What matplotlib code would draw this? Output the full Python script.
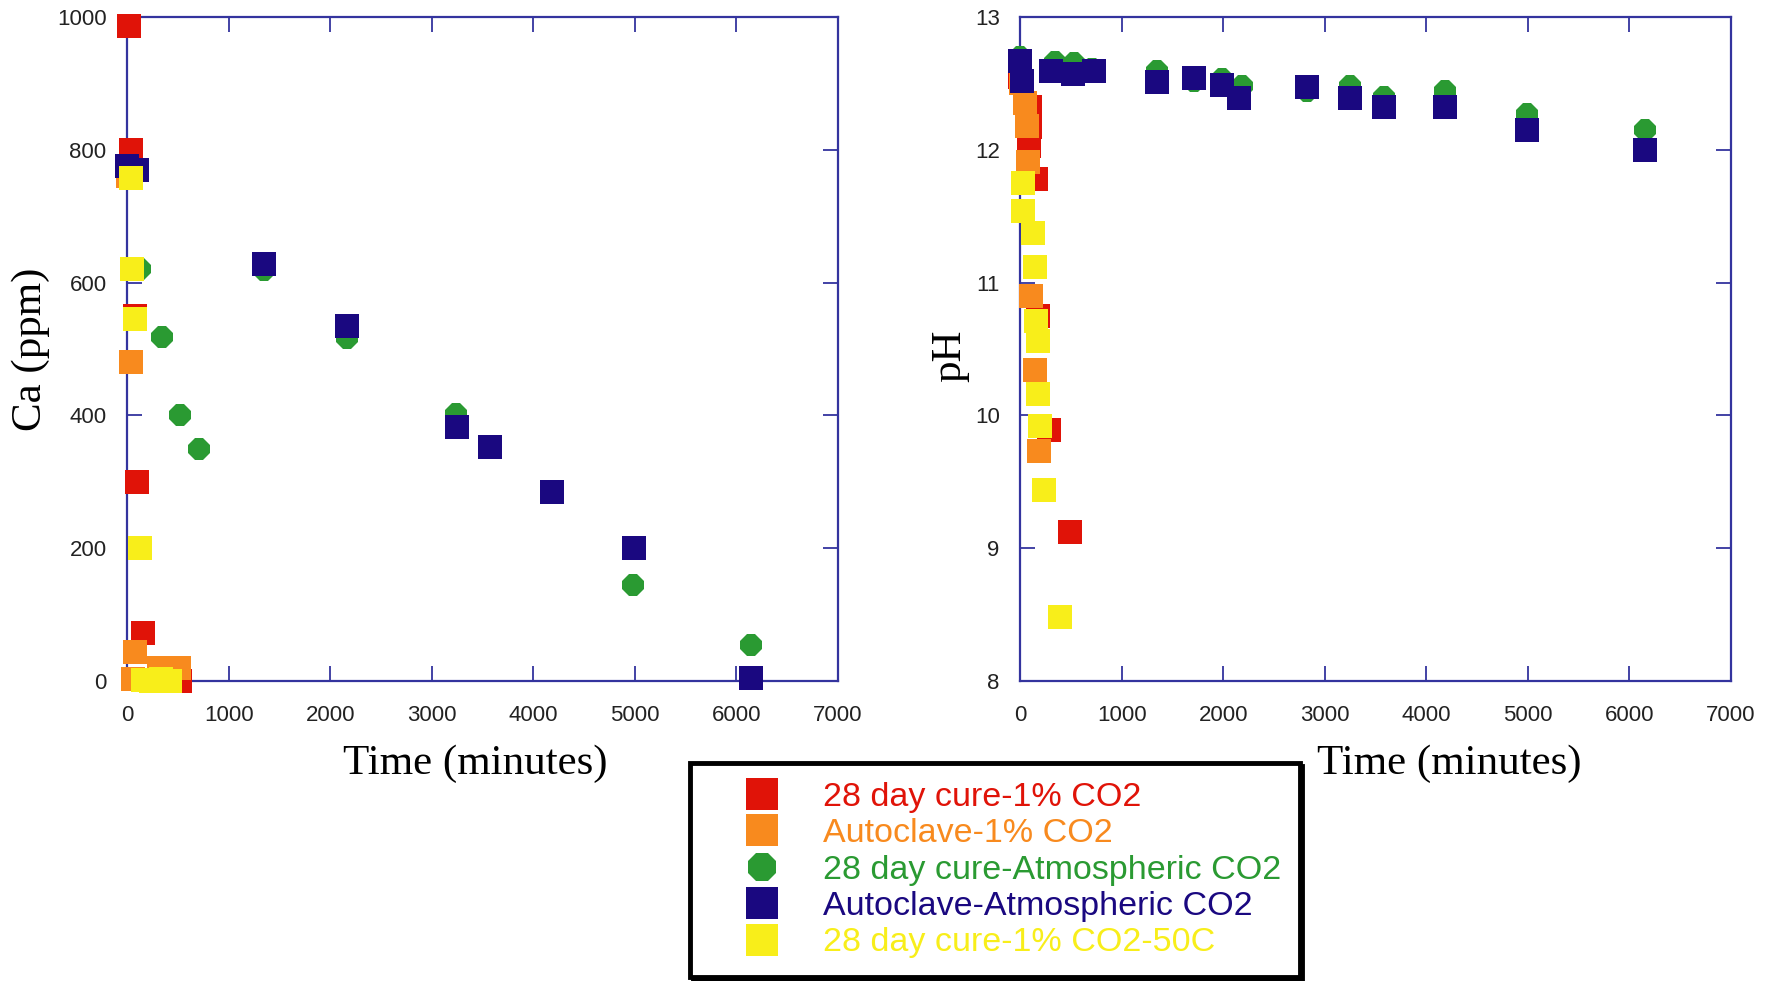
import matplotlib
matplotlib.use("Agg")
import matplotlib.pyplot as plt

# ---- Calcium concentration (ppm) vs time (minutes) ----
ca_red_t = [17, 36, 73, 98, 158, 520]
ca_red = [986, 800, 550, 300, 73, 0]

ca_orange_t = [5, 40, 60, 76, 307, 505]
ca_orange = [760, 481, 3, 43, 19, 19]

ca_green_t = [17, 122, 338, 518, 709, 1348, 2166, 3240, 4984, 6148]
ca_green = [777, 621, 518, 400, 350, 619, 517, 402, 145, 54]

ca_navy_t = [0, 96, 1348, 2166, 3246, 3574, 4180, 4993, 6148]
ca_navy = [775, 770, 628, 535, 383, 353, 284, 201, 5]

ca_yellow_t = [40, 50, 73, 129, 150, 230, 330, 420]
ca_yellow = [758, 621, 545, 201, 2, 0, 3, 0]

# ---- pH vs time (minutes) ----
ph_red_t = [0, 90, 95, 80, 148, 174, 279, 489]
ph_red = [12.55, 12.32, 12.17, 12.03, 11.78, 10.75, 9.89, 9.12]

ph_orange_t = [3, 44, 61, 77, 102, 144, 184]
ph_orange = [12.50, 12.35, 12.18, 11.91, 10.90, 10.34, 9.73]

ph_green_t = [0, 343, 529, 708, 1346, 1706, 1989, 2180, 2823, 3243, 3580, 4180, 4986, 6158]
ph_green = [12.70, 12.66, 12.65, 12.61, 12.59, 12.52, 12.53, 12.48, 12.44, 12.48, 12.40, 12.44, 12.27, 12.15]

ph_navy_t = [0, 10, 300, 522, 725, 1346, 1706, 1989, 2153, 2823, 3243, 3580, 4180, 4986, 6158]
ph_navy = [12.67, 12.52, 12.59, 12.57, 12.59, 12.51, 12.54, 12.49, 12.39, 12.47, 12.39, 12.32, 12.32, 12.15, 12.00]

ph_yellow_t = [28, 23, 121, 141, 157, 177, 177, 197, 236, 390]
ph_yellow = [11.75, 11.54, 11.37, 11.12, 10.71, 10.56, 10.16, 9.92, 9.44, 8.48]

labels = ["28 day cure-1% CO2", "Autoclave-1% CO2", "28 day cure-Atmospheric CO2",
          "Autoclave-Atmospheric CO2", "28 day cure-1% CO2-50C"]
colors = ["#e01308", "#f88a1e", "#2a9a32", "#1a0880", "#f8ee1a"]
markers = ["s", "s", "8", "s", "s"]
sizes = [17.5, 17.5, 16.5, 17.5, 17.5]
zorders = [4, 5, 3, 6, 7]

x_ticks = [0, 1000, 2000, 3000, 4000, 5000, 6000, 7000]
ca_ticks = [0, 200, 400, 600, 800, 1000]
ph_ticks = [8, 9, 10, 11, 12, 13]

axis_color = "#34349e"
tick_font = "Liberation Sans"
label_font = "Liberation Serif"

W, H = 1768, 981
fig = plt.figure(figsize=(W / 100, H / 100), dpi=100)
ax1 = fig.add_axes([127.4 / W, 1 - 681 / H, 710.4 / W, 664 / H])
ax2 = fig.add_axes([1020.5 / W, 1 - 681 / H, 710.4 / W, 664 / H])

ca_sets = [(ca_red_t, ca_red), (ca_orange_t, ca_orange), (ca_green_t, ca_green),
           (ca_navy_t, ca_navy), (ca_yellow_t, ca_yellow)]
ph_sets = [(ph_red_t, ph_red), (ph_orange_t, ph_orange), (ph_green_t, ph_green),
           (ph_navy_t, ph_navy), (ph_yellow_t, ph_yellow)]

handles = []
for ax, sets in ((ax1, ca_sets), (ax2, ph_sets)):
    for i, (t, v) in enumerate(sets):
        ln, = ax.plot(t, v, linestyle="none", marker=markers[i], markersize=sizes[i],
                      color=colors[i], markeredgewidth=0, zorder=zorders[i],
                      clip_on=False, label=labels[i])
        if ax is ax1:
            handles.append(ln)

for ax, yt in ((ax1, ca_ticks), (ax2, ph_ticks)):
    ax.set_xlim(0, 7000)
    ax.set_xticks(x_ticks)
    ax.set_yticks(yt)
    ax.set_ylim(yt[0], yt[-1])
    for s in ax.spines.values():
        s.set_color(axis_color)
        s.set_linewidth(1.6)
    ax.tick_params(axis="both", which="major", direction="in", length=11, width=1.3,
                   color=axis_color, top=True, right=True, labelsize=16,
                   labelcolor="#222222")
    ax.tick_params(axis="x", pad=17)
    ax.tick_params(axis="y", pad=15)
    for lab in ax.get_xticklabels() + ax.get_yticklabels():
        lab.set_fontfamily(tick_font)

ax1.set_ylabel("Ca (ppm)", fontfamily=label_font, fontsize=31)
ax2.set_ylabel("pH", fontfamily=label_font, fontsize=31)
ax1.set_xlabel("Time (minutes)", fontfamily=label_font, fontsize=31)
ax2.set_xlabel("Time (minutes)", fontfamily=label_font, fontsize=31)
for ax in (ax1, ax2):
    ax.xaxis.label.set_va("center")
    ax.yaxis.label.set_va("center")
ax1.xaxis.set_label_coords(0.49, -0.125)
ax2.xaxis.set_label_coords(0.603, -0.125)
ax1.yaxis.set_label_coords(-0.136, 0.5)
ax2.yaxis.set_label_coords(-0.099, 0.49)

leg = fig.legend(handles, labels, loc="upper left",
                 bbox_to_anchor=(690 / W, 1 - 763 / H),
                 prop={"family": tick_font, "size": 24.5},
                 labelcolor=colors, frameon=True, fancybox=False,
                 edgecolor="black", framealpha=1, borderpad=0.55,
                 handlelength=3.15, handletextpad=0.2, labelspacing=0.16,
                 borderaxespad=0, markerscale=1.3,
                 shadow={"color": "black", "alpha": 1})
leg.get_frame().set_linewidth(3.5)

fig.savefig("out.png", dpi=100, facecolor="white")
